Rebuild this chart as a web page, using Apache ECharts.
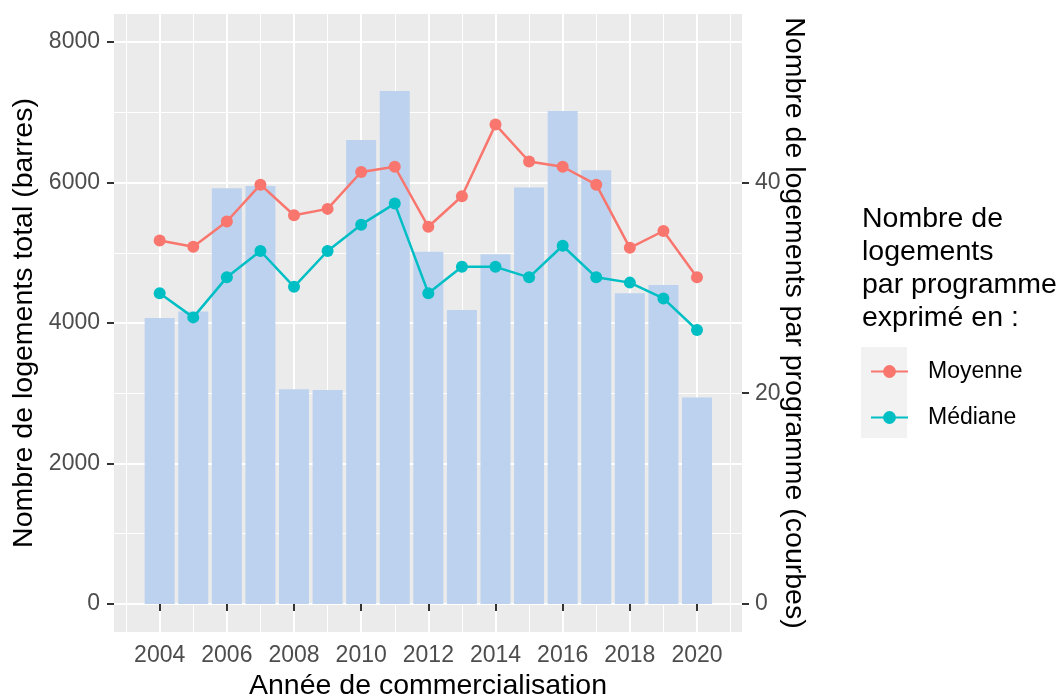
<!DOCTYPE html>
<html>
<head>
<meta charset="utf-8">
<script src="https://cdn.jsdelivr.net/npm/echarts@6/dist/echarts.min.js"></script>
<style>
html,body{margin:0;padding:0;background:#fff;}
#chart{width:1060px;height:700px;}
</style>
</head>
<body>
<div id="chart"></div>
<script>
const years = [2004,2005,2006,2007,2008,2009,2010,2011,2012,2013,2014,2015,2016,2017,2018,2019,2020];
const totalLogements = [4070,4165,5920,5950,3055,3045,6605,7305,5015,4185,4980,5930,7020,6175,4425,4540,2940];
const moyenne = [34.5,33.9,36.3,39.8,36.9,37.5,41.0,41.5,35.8,38.7,45.5,42.0,41.5,39.8,33.8,35.4,31.0];
const mediane = [29.5,27.2,31.0,33.5,30.1,33.5,36.0,38.0,29.5,32.0,32.0,31.0,34.0,31.0,30.5,29.0,26.0];
const xTicks = [2004,2006,2008,2010,2012,2014,2016,2018,2020];
const xMinor = [2003,2005,2007,2009,2011,2013,2015,2017,2019,2021];
const yTicksLeft = [0,2000,4000,6000,8000];
const yMinorLeft = [1000,3000,5000,7000];
const yTicksRight = [0,20,40];
const SEC_RATIO = 150;

const FONT = 'Liberation Sans, Arial, Helvetica, sans-serif';
const tickStyle = {show:true, length:7, lineStyle:{color:'#333333', width:2}};
const labelStyle = {color:'#4D4D4D', fontSize:23, fontFamily:FONT};
const nameStyle = {color:'#000000', fontSize:28.5, fontFamily:FONT};

const chart = echarts.init(document.getElementById('chart'), null, {renderer:'canvas'});
const option = {
  animation:false,
  textStyle:{fontFamily:FONT},
  grid:{left:114, right:318, top:14, bottom:68, show:true, backgroundColor:'#EBEBEB', borderWidth:0,
        containLabel:false, outerBoundsMode:'none'},
  xAxis:[
    {type:'value', min:2002.64, max:2021.34, position:'bottom',
     name:'Année de commercialisation', nameLocation:'middle', nameGap:40, nameMoveOverlap:false, nameTextStyle:nameStyle,
     axisLine:{show:false},
     axisTick:Object.assign({customValues:xTicks}, tickStyle),
     axisLabel:Object.assign({customValues:xTicks, margin:12, formatter:v=>String(v)}, labelStyle),
     splitLine:{show:true, lineStyle:{color:'#FFFFFF', width:2}}},
    {type:'value', min:2002.64, max:2021.34, position:'bottom',
     axisLine:{show:false},
     axisTick:{show:false, customValues:xMinor},
     axisLabel:{show:false, customValues:xMinor},
     splitLine:{show:true, lineStyle:{color:'#FFFFFF', width:1}}}
  ],
  yAxis:[
    {type:'value', min:-400, max:8400, position:'left',
     name:'Nombre de logements total (barres)', nameLocation:'middle', nameGap:75, nameMoveOverlap:false, nameTextStyle:nameStyle,
     axisLine:{show:false},
     axisTick:Object.assign({customValues:yTicksLeft}, tickStyle),
     axisLabel:Object.assign({customValues:yTicksLeft, margin:14, formatter:v=>String(v)}, labelStyle),
     splitLine:{show:true, lineStyle:{color:'#FFFFFF', width:2}}},
    {type:'value', min:-400/SEC_RATIO, max:8400/SEC_RATIO, position:'right',
     name:'Nombre de logements par programme (courbes)', nameLocation:'middle', nameGap:37, nameMoveOverlap:false, nameRotate:-90, nameTextStyle:nameStyle,
     axisLine:{show:false},
     axisTick:Object.assign({customValues:yTicksRight}, tickStyle),
     axisLabel:Object.assign({customValues:yTicksRight, margin:13, formatter:v=>String(v)}, labelStyle),
     splitLine:{show:false}},
    {type:'value', min:-400, max:8400, position:'left',
     axisLine:{show:false},
     axisTick:{show:false, customValues:yMinorLeft},
     axisLabel:{show:false, customValues:yMinorLeft},
     splitLine:{show:true, lineStyle:{color:'#FFFFFF', width:1}}}
  ],
  legend:{
    data:['Moyenne','Médiane'], orient:'vertical', left:865, top:355,
    itemWidth:37, itemHeight:16, itemGap:23,
    textStyle:{color:'#000000', fontSize:23, fontFamily:FONT, padding:[0,0,0,15], lineHeight:23}
  },
  graphic:[
    {id:'ltitle', type:'text', left:862, top:203, z:10,
     style:{text:'Nombre de\nlogements\npar programme\nexprimé en :', fill:'#000000', font:'28.5px ' + FONT, lineHeight:33}},
    {id:'lbox', type:'rect', left:861, top:347, z:0, shape:{width:46, height:91}, style:{fill:'#F2F2F2'}}
  ],
  series:[
    {name:'Total', type:'bar', xAxisIndex:0, yAxisIndex:0, barWidth:30, z:1,
     itemStyle:{color:'#BCD2EE'},
     data:years.map((y,i)=>[y,totalLogements[i]])},
    {name:'Moyenne', type:'line', xAxisIndex:0, yAxisIndex:1, z:3,
     symbol:'circle', symbolSize:12, color:'#F8766D',
     lineStyle:{color:'#F8766D', width:2.5}, itemStyle:{color:'#F8766D'},
     data:years.map((y,i)=>[y,moyenne[i]])},
    {name:'Médiane', type:'line', xAxisIndex:0, yAxisIndex:1, z:3,
     symbol:'circle', symbolSize:12, color:'#00BFC4',
     lineStyle:{color:'#00BFC4', width:2.5}, itemStyle:{color:'#00BFC4'},
     data:years.map((y,i)=>[y,mediane[i]])}
  ]
};
chart.setOption(option);
</script>
</body>
</html>
